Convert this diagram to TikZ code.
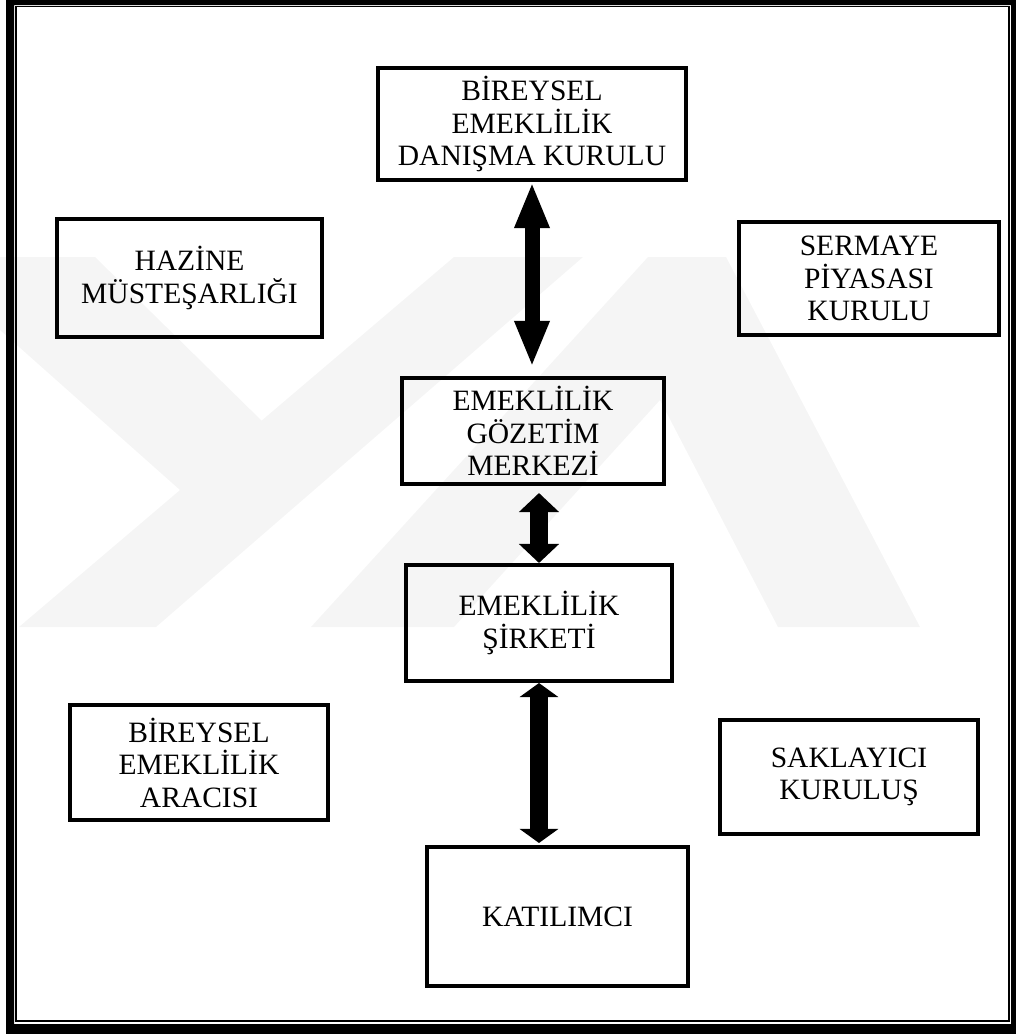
\documentclass[tikz,border=0pt]{standalone}
\usepackage{fontspec}
\setmainfont{Liberation Serif}
\usetikzlibrary{arrows.meta}

\begin{document}
\begin{tikzpicture}[x=0.025cm,y=-0.025cm,
    kutu/.style={draw,line width=0.1cm,align=center,inner sep=0pt,
      font=\fontsize{21}{23.1}\selectfont},
    cift/.style n args={3}{line width=#1,
      arrows={Triangle[width=#2,length=#3]-Triangle[width=#2,length=#3]}}]
          \useasboundingbox (0,0) rectangle (1016,1034);
          \fill[black!4] (454,257) -- (583,257) -- (156,627) -- (19,627) -- cycle;
          \fill[black!4] (0,330) -- (0,257) -- (95,257) -- (320,478) -- (180,490) -- cycle;
          \fill[black!4] (311,627) -- (648,257) -- (726,257) -- (920,627) -- (778,627)
            -- (660,400) -- (454,627) -- cycle;
          \fill[even odd rule] (6,0) rectangle (1016,1034) (14,5) rectangle (1011,1024);
          \draw[line width=0.042cm] (15.8,6.5) rectangle (1009.2,1021.3);
          \node[kutu,minimum width=7.7cm,minimum height=2.8cm] (danisma) at (532,124)
            {BİREYSEL\\EMEKLİLİK\\DANIŞMA KURULU};
          \node[kutu,minimum width=6.625cm,minimum height=2.95cm] (hazine) at (189.5,278)
            {HAZİNE\\MÜSTEŞARLIĞI};
          \node[kutu,minimum width=6.5cm,minimum height=2.825cm] (sermaye) at (869,278.5)
            {SERMAYE\\PİYASASI\\KURULU};
          \node[kutu,minimum width=6.55cm,minimum height=2.65cm] (gozetim) at (533,431)
            {EMEKLİLİK\\GÖZETİM\\MERKEZİ};
          \node[kutu,minimum width=6.65cm,minimum height=2.9cm] (sirket) at (539,623)
            {EMEKLİLİK\\ŞİRKETİ};
          \node[kutu,minimum width=6.45cm,minimum height=2.875cm] (araci) at (199,762.5)
            {BİREYSEL\\EMEKLİLİK\\ARACISI};
          \node[kutu,minimum width=6.45cm,minimum height=2.85cm] (saklayici) at (849,777)
            {SAKLAYICI\\KURULUŞ};
          \node[kutu,minimum width=6.525cm,minimum height=3.475cm] (katilimci) at (557.5,916.5)
            {KATILIMCI};
          \draw[cift={0.375cm}{0.8cm}{1.15cm},shorten >=0.225cm]
            (danisma.south) -- (danisma.south |- gozetim.north);
          \draw[cift={0.44cm}{0.975cm}{0.475cm},shorten <=0.175cm]
            (sirket.north |- gozetim.south) -- (sirket.north);
          \draw[cift={0.45cm}{0.95cm}{0.35cm},shorten >=0.05cm]
            (sirket.south) -- (sirket.south |- katilimci.north);
        \end{tikzpicture}
\end{document}
